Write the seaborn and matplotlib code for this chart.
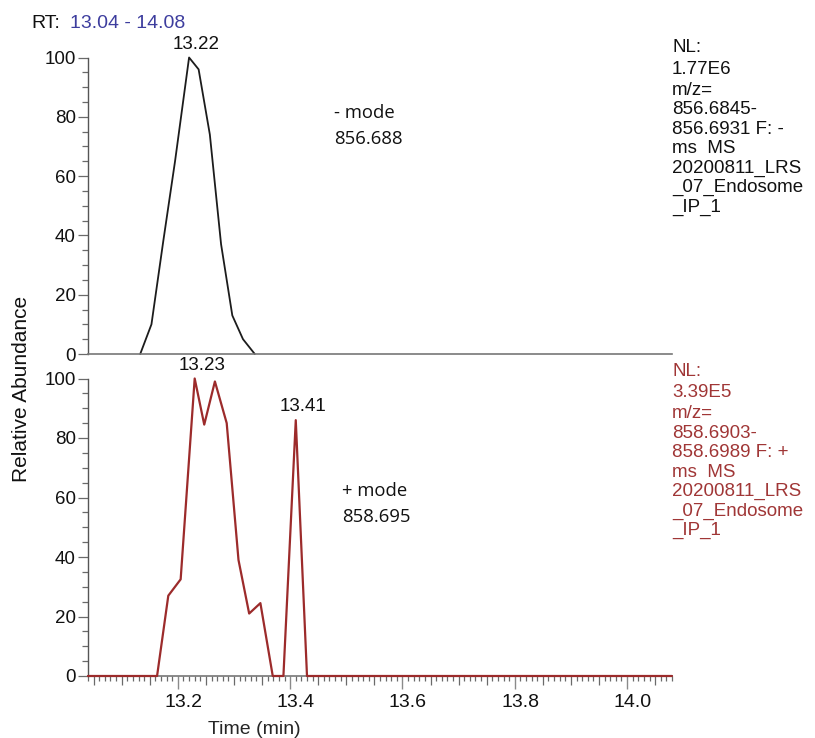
import matplotlib
matplotlib.use("Agg")
import matplotlib.pyplot as plt
import seaborn as sns
from matplotlib.ticker import MultipleLocator, FuncFormatter, NullFormatter
from matplotlib.transforms import ScaledTranslation

# ---------------- data ----------------
rt_range = [13.04, 14.08]

# negative-mode XIC, m/z 856.688
neg_time = [13.133, 13.153, 13.174, 13.195, 13.22, 13.237, 13.257, 13.277, 13.297, 13.316, 13.337]
neg_abund = [0, 10, 38, 65, 100, 96, 74, 37, 13, 5, 0]
neg_peak_labels = [13.22]

# positive-mode XIC, m/z 858.695
pos_time = [13.04, 13.163, 13.183, 13.205, 13.23, 13.247, 13.266, 13.287, 13.308, 13.327,
            13.347, 13.369, 13.388, 13.41, 13.43, 14.08]
pos_abund = [0, 0, 27, 32.5, 100, 84.5, 99, 85, 39, 21, 24.5, 0, 0, 86, 0, 0]
pos_peak_labels = [13.23, 13.41]

neg_info = ["NL:", "1.77E6", "m/z=", "856.6845-", "856.6931 F: -", "ms  MS",
            "20200811_LRS", "_07_Endosome", "_IP_1"]
pos_info = ["NL:", "3.39E5", "m/z=", "858.6903-", "858.6989 F: +", "ms  MS",
            "20200811_LRS", "_07_Endosome", "_IP_1"]
neg_mode = ["- mode", "856.688"]
pos_mode = ["+ mode", "858.695"]

# ---------------- style ----------------
sns.set_style("ticks")
plt.rcParams['font.family'] = ['Liberation Sans', 'DejaVu Sans']

BLACK_LINE = "#1c1c1c"
RED = "#9c2b2b"
RED_TXT = "#a03636"
BLUE = "#3d3d9e"
AXC = "#555555"
TICKC = "#6a6a6a"

W, H = 815, 738
fig = plt.figure(figsize=(W / 100, H / 100), dpi=100)


def fx(px):
    return px / W


def fy(py):
    return 1 - py / H


ax_top = fig.add_axes([fx(88), fy(354), fx(584), 296.5 / H])
ax_bot = fig.add_axes([fx(88), fy(676), fx(584), 297.5 / H])

sns.lineplot(x=neg_time, y=neg_abund, ax=ax_top, color=BLACK_LINE, linewidth=1.3,
             estimator=None, sort=False, clip_on=False)
sns.lineplot(x=pos_time, y=pos_abund, ax=ax_bot, color=RED, linewidth=1.6,
             estimator=None, sort=False, clip_on=False, zorder=5)

for ax in (ax_top, ax_bot):
    ax.set_xlim(*rt_range)
    ax.set_ylim(0, 100)
    ax.set_xlabel("")
    ax.set_ylabel("")
    for s in ("top", "right"):
        ax.spines[s].set_visible(False)
    ax.spines["left"].set_color(AXC)
    ax.spines["left"].set_linewidth(1.0)
    ax.spines["bottom"].set_color("#777777")
    ax.spines["bottom"].set_linewidth(1.2)
    ax.yaxis.set_major_locator(MultipleLocator(20))
    ax.yaxis.set_minor_locator(MultipleLocator(5))
    ax.tick_params(axis="y", which="major", length=7.2, width=0.9, color=TICKC,
                   pad=1.5, labelsize=13.5, labelcolor="#111111")
    ax.tick_params(axis="y", which="minor", length=4.5, width=0.9, color=TICKC)
    ax.patch.set_alpha(0)

ax_top.tick_params(axis="x", which="both", bottom=False, labelbottom=False)

# time axis: labelled ticks every 0.2, mid ticks every 0.05, fine ticks every 0.01
ax_bot.xaxis.set_major_locator(MultipleLocator(0.2))
ax_bot.xaxis.set_major_formatter(FuncFormatter(lambda v, p: f"{v:.1f}"))
ax_bot.xaxis.set_minor_locator(MultipleLocator(0.01))
ax_bot.xaxis.set_minor_formatter(NullFormatter())
ax_bot.tick_params(axis="x", which="major", length=9.4, width=1.0, color="#8a8a8a",
                   pad=3.5, labelsize=14, labelcolor="#111111")
ax_bot.tick_params(axis="x", which="minor", length=3.6, width=0.9, color=TICKC)

ax_bot.set_xlabel("Time (min)", fontsize=14, va="baseline")
ax_bot.xaxis.set_label_coords((254 - 88) / 584, (676 - 734) / 297.5)

fig.canvas.draw()
for loc, tick in zip(ax_bot.xaxis.get_minorticklocs(), ax_bot.xaxis.get_minor_ticks()):
    if abs(loc / 0.05 - round(loc / 0.05)) < 1e-6:
        tick.tick1line.set_markersize(6.5)
shift = ScaledTranslation(5.5 / 100, 0, fig.dpi_scale_trans)
for tick in ax_bot.xaxis.get_major_ticks():
    tick.label1.set_transform(tick.label1.get_transform() + shift)


# peak retention-time labels
def label_peaks(ax, times, values, peaks, color):
    for p in peaks:
        i = min(range(len(times)), key=lambda k: abs(times[k] - p))
        ax.annotate(f"{times[i]:.2f}", xy=(times[i], values[i]), xytext=(5, 3.5),
                    textcoords="offset points", ha="center", va="bottom",
                    fontsize=13.5, color=color, annotation_clip=False)


label_peaks(ax_top, neg_time, neg_abund, neg_peak_labels, "#111111")
label_peaks(ax_bot, pos_time, pos_abund, pos_peak_labels, "#111111")

# header
fig.text(fx(31), fy(28.5), "RT:", fontsize=14, color="#111111", va="baseline")
fig.text(fx(70), fy(28.5), f"{rt_range[0]:.2f} - {rt_range[1]:.2f}", fontsize=14,
         color=BLUE, va="baseline")

fig.text(fx(22), fy(389), "Relative Abundance", rotation=90, fontsize=15,
         ha="center", va="center", color="#111111")


# scan info blocks on the right
def info_block(lines, top, color):
    base = [top, top + 21.5]
    base += [top + 43 + 19.4 * k for k in range(len(lines) - 2)]
    for txt, b in zip(lines, base):
        fig.text(fx(672), fy(b), txt, fontsize=13.5, color=color, va="baseline")


info_block(neg_info, 52, "#111111")
info_block(pos_info, 375.5, RED_TXT)


# mode annotations
def mode_block(lines, x, top):
    for k, txt in enumerate(lines):
        fig.text(fx(x), fy(top + 25 * k), txt, fontsize=13.3, family=["Open Sans", "DejaVu Sans"],
                 color="#111111", va="baseline")


mode_block(neg_mode, 334, 118.5)
mode_block(pos_mode, 342, 496.5)

fig.savefig("out.png", dpi=100)
